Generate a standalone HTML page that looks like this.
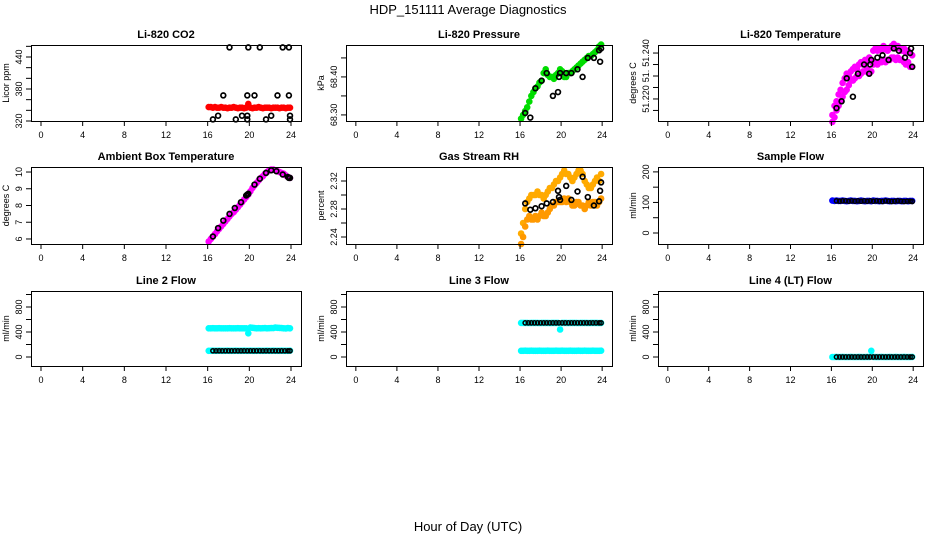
<!DOCTYPE html>
<html><head><meta charset="utf-8"><style>
html,body{margin:0;padding:0;background:#fff;}
svg{display:block;font-family:"Liberation Sans",sans-serif;}
</style></head><body>
<svg id="chart" width="936" height="540" viewBox="0 0 936 540">
<text x="468" y="14" text-anchor="middle" font-size="13">HDP_151111  Average Diagnostics</text>
<text x="468" y="531" text-anchor="middle" font-size="13">Hour of Day (UTC)</text>
</svg>
<script>
const H = [16.1,16.3,16.5,16.7,16.9,17.1,17.3,17.5,17.7,17.9,18.1,18.3,18.5,18.7,18.9,19.1,19.3,19.5,19.7,19.9,20.1,20.3,20.5,20.7,20.9,21.1,21.3,21.5,21.7,21.9,22.1,22.3,22.5,22.7,22.9,23.1,23.3,23.5,23.7,23.9];
const HB = [16.5,17.0,17.5,18.1,18.6,19.2,19.7,19.8,19.9,20.5,21.0,21.6,22.1,22.6,23.2,23.7,23.8,23.9];
const HF = [16.5,16.8,17.1,17.4,17.7,18.0,18.3,18.6,18.9,19.2,19.5,19.8,20.1,20.4,20.7,21.0,21.3,21.6,21.9,22.2,22.5,22.8,23.1,23.4,23.7,23.9];
const xTicks = [0,4,8,12,16,20,24];

const co2 = [346,346,345,346,345,345,346,345,345,344,345,345,346,345,344,345,345,344,345,352,345,344,345,345,346,345,344,345,345,345,344,345,345,345,344,345,345,344,345,345];
const co2BH = [18.1,19.9,21.0,23.2,23.8,17.5,19.8,20.5,22.7,23.8,17.0,19.3,19.8,22.1,23.9,16.5,18.7,19.8,21.6,23.9];
const co2BV = [458,458,458,458,458,368,368,368,368,368,330,330,330,330,330,323,323,323,323,323];

const press = [68.29,68.30,68.31,68.32,68.335,68.35,68.36,68.37,68.375,68.385,68.39,68.41,68.42,68.405,68.40,68.40,68.395,68.405,68.41,68.42,68.415,68.40,68.40,68.41,68.41,68.415,68.42,68.425,68.43,68.435,68.44,68.445,68.45,68.455,68.455,68.46,68.465,68.47,68.48,68.485];
const pressB = [68.305,68.293,68.37,68.39,68.41,68.35,68.36,68.40,68.41,68.41,68.41,68.42,68.40,68.45,68.45,68.47,68.44,68.475];

const tempA = [51.213,51.217,51.219,51.222,51.224,51.227,51.229,51.231,51.230,51.232,51.233,51.234,51.233,51.235,51.236,51.235,51.237,51.236,51.238,51.237,51.241,51.242,51.241,51.242,51.241,51.243,51.242,51.241,51.242,51.243,51.244,51.242,51.243,51.242,51.241,51.242,51.240,51.241,51.240,51.239];
const tempLo = [51.210,51.212,51.215,51.217,51.219,51.221,51.223,51.224,51.226,51.228,51.228,51.229,51.230,51.230,51.231,51.232,51.232,51.233,51.231,51.232,51.235,51.236,51.235,51.236,51.236,51.237,51.236,51.237,51.237,51.238,51.238,51.237,51.238,51.237,51.237,51.236,51.235,51.236,51.234,51.234];
const tempB = [51.216,51.219,51.229,51.221,51.231,51.235,51.231,51.235,51.237,51.238,51.239,51.237,51.242,51.241,51.238,51.240,51.242,51.234];

const amb = [5.85,6.0,6.15,6.3,6.45,6.6,6.75,6.9,7.05,7.2,7.35,7.5,7.6,7.75,7.9,8.05,8.2,8.35,8.5,8.65,8.85,9.05,9.2,9.35,9.5,9.65,9.75,9.9,10.0,10.1,10.15,10.15,10.1,10.05,10.0,9.95,9.9,9.8,9.7,9.65];
const ambB = [6.15,6.65,7.1,7.5,7.85,8.2,8.6,8.65,8.7,9.25,9.6,9.95,10.1,10.05,9.85,9.7,9.65,9.65];

const rhA = [2.245,2.26,2.28,2.29,2.295,2.30,2.30,2.30,2.305,2.30,2.30,2.295,2.30,2.305,2.31,2.31,2.315,2.32,2.32,2.325,2.33,2.335,2.33,2.33,2.325,2.32,2.325,2.33,2.335,2.335,2.33,2.32,2.315,2.31,2.31,2.315,2.32,2.325,2.32,2.33];
const rhLo = [2.23,2.24,2.255,2.265,2.27,2.265,2.265,2.27,2.265,2.27,2.275,2.27,2.27,2.275,2.28,2.285,2.285,2.29,2.29,2.29,2.29,2.295,2.29,2.295,2.29,2.285,2.285,2.29,2.29,2.285,2.285,2.28,2.285,2.29,2.285,2.29,2.29,2.285,2.29,2.295];
const rhB = [2.288,2.279,2.281,2.284,2.288,2.29,2.306,2.297,2.293,2.313,2.293,2.305,2.326,2.297,2.285,2.291,2.306,2.318];

const sflow = [106,105,106,105,105,106,105,104,105,106,105,105,104,105,106,105,104,105,105,104,106,105,105,104,105,105,106,105,104,105,105,104,105,105,104,105,105,104,105,105];
const sflowB = [105,104,105,105,104,105,104,105,104,105,104,105,104,105,104,103,105,104,103,104,105,104,103,104,104,103];

const l2hi = [460,460,461,459,460,461,460,459,460,460,461,460,459,460,461,460,459,460,460,380,470,468,462,460,461,460,461,462,460,461,462,463,470,468,465,462,460,458,462,460];
const l2lo = [100,100,101,100,100,101,100,100,100,101,100,100,100,101,100,100,100,101,100,100,101,100,100,100,101,100,100,100,101,100,100,101,100,100,100,101,100,100,100,101];
const l2B = [100,100,100,100,100,100,100,100,100,100,100,100,100,100,100,100,100,100,100,100,100,100,100,100,100,100];

const l3hi = [545,545,546,545,544,545,546,545,545,544,545,546,545,545,544,545,546,545,545,440,545,546,545,544,545,546,545,545,544,545,546,545,545,544,545,546,545,545,544,545];
const l3lo = [100,100,101,100,100,101,100,100,100,101,100,100,100,101,100,100,100,101,100,100,101,100,100,100,101,100,100,100,101,100,100,101,100,100,100,101,100,100,100,101];
const l3B = [545,545,545,545,545,545,545,545,545,545,545,545,545,545,545,545,545,545,545,545,545,545,545,545,545,545];

const l4 = [0,0,1,0,0,1,0,0,0,1,0,0,0,1,0,0,0,1,0,100,1,0,0,0,1,0,0,0,1,0,0,1,0,0,0,1,0,0,0,1];
const l4B = [0,0,0,0,0,0,0,0,0,0,0,0,0,0,0,0,0,0,0,0,0,0,0,0,0,0];

const NS = "http://www.w3.org/2000/svg";
const svg = document.getElementById('chart');
const cols = [{L:31,R:301},{L:346,R:612},{L:658,R:923}];
const rows = [{T:45,B:121},{T:167,B:244},{T:291,B:366}];
const XMIN = -0.96, XMAX = 24.96;

function mk(tag, attrs, parent){
  const e = document.createElementNS(NS, tag);
  for (const k in attrs) e.setAttribute(k, attrs[k]);
  (parent||svg).appendChild(e);
  return e;
}

const flowTicks = [0,200,400,600,800,1000], flowLabs = [0,400,800];
const panels = [
 {name:'co2', title:'Li-820 CO2', ylab:'Licor ppm', c:0, r:0, ylim:[320,462.5], ticks:[320,340,360,380,400,420,440,460], labs:[320,380,440], fmt:v=>String(v),
  series:[{h:H,v:co2,col:'#ff0000',dense:true},{h:co2BH,v:co2BV,col:'#000'}]},
 {name:'pressure', title:'Li-820 Pressure', ylab:'kPa', c:1, r:0, ylim:[68.284,68.484], ticks:[68.30,68.35,68.40,68.45], labs:[68.30,68.40], fmt:v=>v.toFixed(2),
  series:[{h:H,v:press,col:'#00dd00',dense:true},{h:HB,v:pressB,col:'#000'}]},
 {name:'temperature', title:'Li-820 Temperature', ylab:'degrees C', c:2, r:0, ylim:[51.2104,51.2435], ticks:[51.215,51.220,51.225,51.230,51.235,51.240], labs:[51.220,51.230,51.240], fmt:v=>(Math.abs(v-51.23)<1e-6?'51.':v.toFixed(3)),
  series:[{h:H,v:tempA,col:'#ff00ff',dense:true},{h:H,v:tempLo,col:'#ff00ff',dense:true},{h:HB,v:tempB,col:'#000'}]},
 {name:'ambient', title:'Ambient Box Temperature', ylab:'degrees C', c:0, r:1, ylim:[5.7,10.3], ticks:[6,7,8,9,10], labs:[6,7,8,9,10], fmt:v=>String(v),
  series:[{h:H,v:amb,col:'#ff00ff',dense:true},{h:HB,v:ambB,col:'#000'}]},
 {name:'rh', title:'Gas Stream RH', ylab:'percent', c:1, r:1, ylim:[2.23,2.34], ticks:[2.24,2.26,2.28,2.30,2.32], labs:[2.24,2.28,2.32], fmt:v=>v.toFixed(2),
  series:[{h:H,v:rhA,col:'#ffaa00',dense:true},{h:H,v:rhLo,col:'#ff9900',dense:true},{h:HB,v:rhB,col:'#000'}]},
 {name:'sample-flow', title:'Sample Flow', ylab:'ml/min', c:2, r:1, ylim:[-36,216], ticks:[0,50,100,150,200], labs:[0,100,200], fmt:v=>String(v),
  series:[{h:H,v:sflow,col:'#0000ff',dense:true},{h:HF,v:sflowB,col:'#000',small:true}]},
 {name:'line2', title:'Line 2 Flow', ylab:'ml/min', c:0, r:2, ylim:[-144,1056], ticks:flowTicks, labs:flowLabs, fmt:v=>String(v),
  series:[{h:H,v:l2hi,col:'#00ffff',dense:true},{h:H,v:l2lo,col:'#00ffff',dense:true},{h:HF,v:l2B,col:'#000',small:true}]},
 {name:'line3', title:'Line 3 Flow', ylab:'ml/min', c:1, r:2, ylim:[-144,1056], ticks:flowTicks, labs:flowLabs, fmt:v=>String(v),
  series:[{h:H,v:l3hi,col:'#00ffff',dense:true},{h:H,v:l3lo,col:'#00ffff',dense:true},{h:HF,v:l3B,col:'#000',small:true}]},
 {name:'line4', title:'Line 4 (LT) Flow', ylab:'ml/min', c:2, r:2, ylim:[-144,1056], ticks:flowTicks, labs:flowLabs, fmt:v=>String(v),
  series:[{h:H,v:l4,col:'#00ffff',dense:true},{h:HF,v:l4B,col:'#000',small:true}]}
];

panels.forEach(p=>{
  const C = cols[p.c], R = rows[p.r];
  const g = mk('g',{});
  
  
  const xs = h => C.L + (h - XMIN)/(XMAX - XMIN)*(C.R - C.L);
  const ys = v => R.B - (v - p.ylim[0])/(p.ylim[1]-p.ylim[0])*(R.B - R.T);
  const t = mk('text',{x:(C.L+C.R)/2, y:R.T-7, 'text-anchor':'middle','font-size':'11','font-weight':'bold'}, g);
  t.textContent = p.title;
  
  
  p.series.forEach(s=>{
    const sg = mk('g',{}, g);
    
    
    s.h.forEach((h,i)=>{
      const c = mk('circle',{cx:xs(h).toFixed(1), cy:ys(s.v[i]).toFixed(1),
        r: s.dense?2.3:(s.small?2.1:2.4), fill: s.dense? s.col : 'none', stroke:s.col,
        'stroke-width': s.dense?2:(s.small?1.5:1.7)}, sg);
      
      
    });
  });
  const b = mk('rect',{x:C.L+0.5,y:R.T+0.5,width:C.R-C.L,height:R.B-R.T,fill:'none',stroke:'#000','stroke-width':1}, g);
  
  
  const xa = mk('g',{}, g);
  
  
  xTicks.forEach(v=>{
    const x = xs(v);
    mk('line',{x1:x,x2:x,y1:R.B,y2:R.B+5,stroke:'#000'}, xa);
    const tl = mk('text',{x:x,y:R.B+17,'text-anchor':'middle','font-size':'9'}, xa);
    tl.textContent = v;
    
    
  });
  const ya = mk('g',{}, g);
  
  
  p.ticks.forEach(v=>{
    const y = ys(v);
    mk('line',{x1:C.L-5,x2:C.L,y1:y,y2:y,stroke:'#000'}, ya);
  });
  p.labs.forEach(v=>{
    const y = ys(v);
    const lx = C.L-9;
    const tl = mk('text',{x:lx,y:y,'text-anchor':'middle','font-size':'9',transform:'rotate(-90 '+lx+' '+y+')'}, ya);
    tl.textContent = p.fmt(v);
    
    
  });
  const yx = C.L-22, yy = (R.T+R.B)/2;
  const yl = mk('text',{x:yx,y:yy,'text-anchor':'middle','font-size':'9',transform:'rotate(-90 '+yx+' '+yy+')'}, g);
  yl.textContent = p.ylab;
  
  
});
</script>
</body></html>
